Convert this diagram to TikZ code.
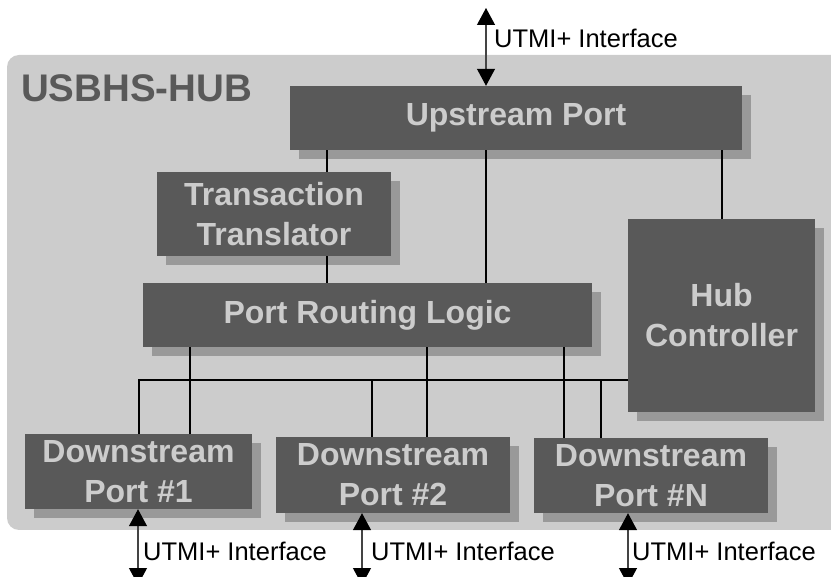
\documentclass[tikz,border=0pt]{standalone}
\usepackage{fontspec}
\setmainfont{Liberation Sans}
\usetikzlibrary{arrows.meta,shadows}

\definecolor{hubbg}{HTML}{CCCCCC}
\definecolor{blockgray}{HTML}{595959}
\definecolor{shadegray}{HTML}{999999}
\definecolor{blocktext}{HTML}{CCCCCC}
\definecolor{ifline}{HTML}{444444}

\tikzset{
  block/.style={fill=blockgray, text=blocktext, align=center, inner sep=0pt,
    font=\bfseries\fontsize{32}{40}\selectfont,
    drop shadow={shadow xshift=9pt, shadow yshift=-9pt, fill=shadegray, opacity=1}},
  wire/.style={line width=2pt, black},
  iface/.style={line width=1.2pt, ifline,
    {Triangle[width=18pt,length=17pt,color=black]}-{Triangle[width=18pt,length=17pt,color=black]}},
  ifname/.style={anchor=base west, inner sep=0pt, font=\fontsize{25.5}{30}\selectfont}
}

\begin{document}
\begin{tikzpicture}[x=1pt,y=-1pt]
  \useasboundingbox (0,0) rectangle (831,577);
  \fill[hubbg, rounded corners=12pt] (7,55) rectangle (860,530);
  \node[anchor=base west, inner sep=0pt, text=blockgray,
    font=\bfseries\fontsize{38.5}{44}\selectfont] (title) at (21,102) {USBHS-HUB};

  % Bloecke
  \node[block, minimum width=452pt, minimum height=64pt] (up) at (516,118) {Upstream Port};
  \node[block, minimum width=234pt, minimum height=84pt] (tt) at (274,214) {Transaction\\Translator};
  \node[block, minimum width=449pt, minimum height=64pt] (prl) at (367.5,315) {Port Routing Logic};
  \node[block, minimum width=187pt, minimum height=193pt] (hub) at (721.5,315.5) {Hub\\Controller};
  \node[block, minimum width=227pt, minimum height=75pt] (dp1) at (138.5,471.5) {Downstream\\Port \#1};
  \node[block, minimum width=234pt, minimum height=76pt] (dp2) at (393,475) {Downstream\\Port \#2};
  \node[block, minimum width=234pt, minimum height=75pt] (dpN) at (651,475.5) {Downstream\\Port \#N};

  % Verbindungen
  \coordinate (ttlink) at (327,0);
  \coordinate (uplink) at (486,0);
  \draw[wire] (up.south -| ttlink) -- (tt.north -| ttlink);
  \draw[wire] (tt.south -| ttlink) -- (prl.north -| ttlink);
  \draw[wire] (up.south -| uplink) -- (prl.north -| uplink);
  \draw[wire] (up.south -| hub.north) -- (hub.north);

  \coordinate (bus) at (138,380);
  \draw[wire] (dp1.north) -- (dp1.north |- bus) -- (bus -| hub.west);
  \foreach \x/\d in {372/dp2, 601/dpN} {
    \coordinate (drop) at (\x,380);
    \draw[wire] (drop) -- (drop |- \d.north);
  }
  \foreach \x/\d in {190/dp1, 427/dp2, 564/dpN} {
    \coordinate (tap) at (\x,0);
    \draw[wire] (prl.south -| tap) -- (\d.north -| tap);
  }

  % Schnittstellen
  \coordinate (host) at (486,8);
  \draw[iface] (host) -- (host |- up.north);
  \node[ifname] (hostif) at (494,48) {UTMI+ Interface};
  \foreach \x/\d/\t in {138/dp1/143, 362/dp2/371, 628/dpN/632} {
    \coordinate (dev) at (\x,585);
    \draw[iface] (\d.south -| dev) -- (dev);
    \node[ifname] at (\t,560) {UTMI+ Interface};
  }
\end{tikzpicture}
\end{document}
